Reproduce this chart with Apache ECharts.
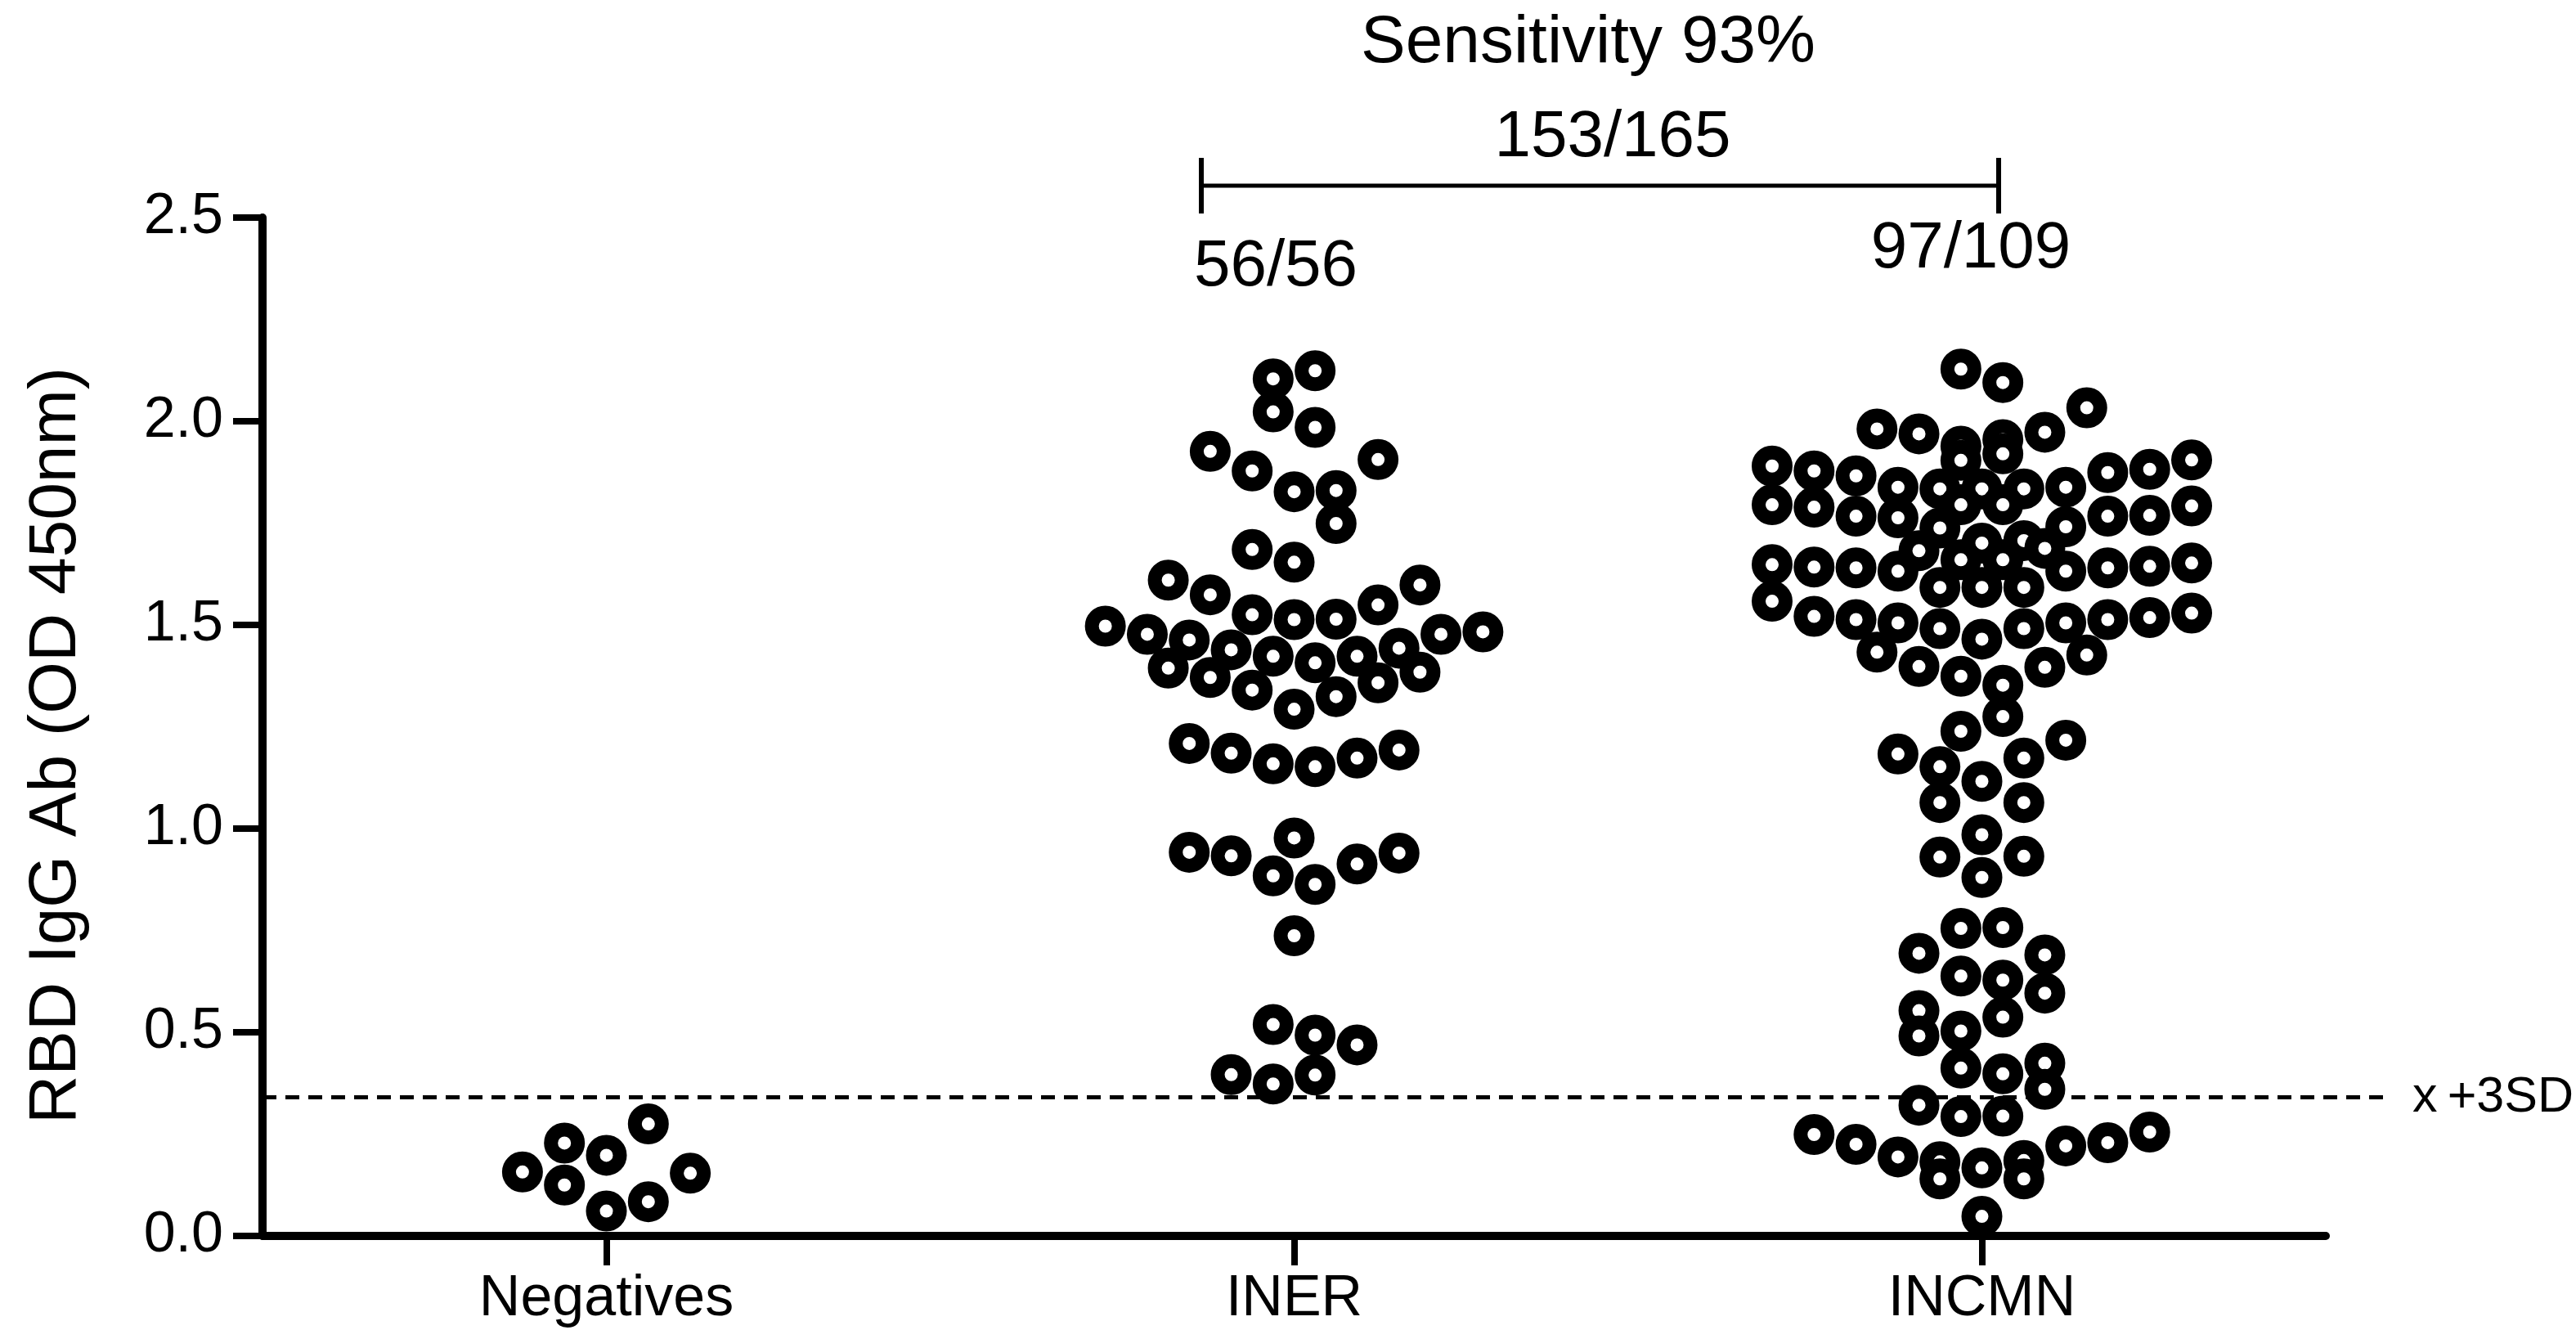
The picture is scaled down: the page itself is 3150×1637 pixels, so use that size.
<!DOCTYPE html>
<html>
<head>
<meta charset="utf-8">
<script src="https://cdn.jsdelivr.net/npm/echarts@6/dist/echarts.min.js"></script>
<style>
html,body{margin:0;padding:0;background:#ffffff;}
#c{width:3150px;height:1637px;}
</style>
</head>
<body>
<div id="c"></div>
<script>
// ---------------- data ----------------
const categories = ['Negatives', 'INER', 'INCMN'];

// Negatives
const negValues = [0.157, 0.228, 0.125, 0.198, 0.275, 0.061, 0.084, 0.154];
const negSlots  = [-2, -1, -1, 0, 1, 0, 1, 2];

// INER (56 samples)
const inerValues = [
  2.104, 2.124, 2.023, 1.985, 1.926, 1.906, 1.878, 1.827, 1.830, 1.749,
  1.685, 1.654, 1.610, 1.574, 1.598, 1.549, 1.525, 1.513, 1.514, 1.497,
  1.477, 1.477, 1.483, 1.463, 1.439, 1.423, 1.407, 1.423, 1.443, 1.394,
  1.371, 1.340, 1.293, 1.324, 1.358, 1.384, 1.209, 1.185, 1.159, 1.152,
  1.173, 1.193, 0.977, 0.942, 0.933, 0.884, 0.863, 0.913, 0.940, 0.737,
  0.519, 0.493, 0.469, 0.396, 0.373, 0.395
];
const inerSlots = [
  -0.5, 0.5, -0.5, 0.5, -2, 2, -1, 0, 1, 1,
  -1, 0, -3, -2, 3, 2, -1, 0, 1, -4.5,
  -3.5, 3.5, 4.5, -2.5, -1.5, -0.5, 0.5, 1.5, 2.5, -3,
  -2, -1, 0, 1, 2, 3, -2.5, -1.5, -0.5, 0.5,
  1.5, 2.5, 0, -2.5, -1.5, -0.5, 0.5, 1.5, 2.5, 0,
  -0.5, 0.5, 1.5, -1.5, -0.5, 0.5
];

// INCMN (109 samples)
const incmnValues = [
  2.128, 2.095, 2.033, 1.981, 1.969, 1.939, 1.904, 1.955, 1.920, 1.973,
  1.890, 1.878, 1.866, 1.838, 1.834, 1.834, 1.834, 1.838, 1.874, 1.882,
  1.905, 1.795, 1.789, 1.767, 1.763, 1.795, 1.795, 1.738, 1.741, 1.767,
  1.769, 1.792, 1.701, 1.707, 1.682, 1.688, 1.660, 1.660, 1.648, 1.642,
  1.640, 1.632, 1.632, 1.640, 1.644, 1.652, 1.592, 1.592, 1.592, 1.558,
  1.521, 1.513, 1.505, 1.491, 1.465, 1.491, 1.505, 1.513, 1.518, 1.529,
  1.433, 1.398, 1.374, 1.352, 1.396, 1.426, 1.275, 1.239, 1.217, 1.183,
  1.173, 1.152, 1.116, 1.064, 1.064, 0.985, 0.930, 0.932, 0.880, 0.755,
  0.757, 0.694, 0.690, 0.638, 0.628, 0.596, 0.553, 0.537, 0.503, 0.491,
  0.412, 0.398, 0.424, 0.360, 0.321, 0.293, 0.294, 0.249, 0.225, 0.194,
  0.182, 0.140, 0.167, 0.185, 0.140, 0.221, 0.229, 0.255, 0.048
];
const incmnSlots = [
  -0.5, 0.5, 2.5, -2.5, -1.5, -0.5, -0.5, 0.5, 0.5, 1.5,
  -5, -4, -3, -2, -1, 0, 1, 2, 3, 4,
  5, -5, -4, -3, -2, -0.5, 0.5, -1, 2, 3,
  4, 5, 0, 1, -1.5, 1.5, -0.5, 0.5, -5, -4,
  -3, -2, 2, 3, 4, 5, -1, 0, 1, -5,
  -4, -3, -2, -1, 0, 1, 2, 3, 4, 5,
  -2.5, -1.5, -0.5, 0.5, 1.5, 2.5, 0.5, -0.5, 2, -2,
  1, -1, 0, -1, 1, 0, -1, 1, 0, -0.5,
  0.5, -1.5, 1.5, -0.5, 0.5, 1.5, -1.5, 0.5, -0.5, -1.5,
  -0.5, 0.5, 1.5, 1.5, -1.5, -0.5, 0.5, -4, -3, -2,
  -1, -1, 0, 1, 1, 2, 3, 4, 0
];

const cutoff = 0.335;               // mean + 3SD of negatives
const cutoffLabel = 'x\u2009+3SD';
const yAxisTitle = 'RBD IgG Ab (OD 450nm)';
const headline = 'Sensitivity 93%';
const totalRatio = '153/165';
const inerRatio = '56/56';
const incmnRatio = '97/109';

// ---------------- chart ----------------
const FONT = '"Liberation Sans", Arial, Helvetica, sans-serif';
const SLOT = 0.061; // width of one swarm column, in category units

function swarm(groupIdx, values, slots) {
  return values.map((v, i) => [groupIdx + slots[i] * SLOT, v]);
}
const groups = [[negValues, negSlots], [inerValues, inerSlots], [incmnValues, incmnSlots]];

const ringStyle = {
  type: 'scatter',
  xAxisIndex: 1,
  yAxisIndex: 0,
  symbol: 'circle',
  symbolSize: 33,
  itemStyle: { color: '#ffffff', borderColor: '#000000', borderWidth: 17, opacity: 1 },
  emphasis: { disabled: true },
  silent: true,
  z: 5
};

const chart = echarts.init(document.getElementById('c'), null, { renderer: 'canvas' });

function txt(x, y, text, size) {
  return {
    type: 'text', x: x, y: y, silent: true,
    style: {
      text: text, fill: '#000000',
      font: size + 'px ' + FONT,
      align: 'center', verticalAlign: 'middle',
      textAlign: 'center', textVerticalAlign: 'middle'
    }
  };
}
function seg(x1, y1, x2, y2, w) {
  return { type: 'line', silent: true, shape: { x1, y1, x2, y2 }, style: { stroke: '#000000', lineWidth: w } };
}

const option = {
  animation: false,
  backgroundColor: '#ffffff',
  grid: [
    { left: 321, right: 306, top: 266, bottom: 126 },
    { left: 321, right: 232, top: 266, bottom: 126 }
  ],
  xAxis: [
    {
      type: 'category', gridIndex: 0, data: categories, boundaryGap: true,
      axisLine: { show: true, onZero: false, lineStyle: { color: '#000000', width: 10 } },
      axisTick: { show: true, alignWithLabel: true, length: 36, lineStyle: { color: '#000000', width: 8 } },
      axisLabel: { color: '#000000', fontSize: 70, fontFamily: FONT, margin: 43 },
      splitLine: { show: false }
    },
    { type: 'value', gridIndex: 0, min: -0.5, max: 2.5, show: false },
    { type: 'value', gridIndex: 1, min: 0, max: 1, show: false }
  ],
  yAxis: [
    {
      type: 'value', gridIndex: 0, min: 0, max: 2.5, interval: 0.5,
      name: yAxisTitle, nameLocation: 'middle', nameGap: 211,
      nameTextStyle: { color: '#000000', fontSize: 82, fontFamily: FONT, padding: [0, 46, 0, 0] },
      axisLine: { show: true, onZero: false, lineStyle: { color: '#000000', width: 10 } },
      axisTick: { show: true, length: 36, lineStyle: { color: '#000000', width: 8 } },
      axisLabel: { color: '#000000', fontSize: 70, fontFamily: FONT, margin: 48,
                   formatter: v => v.toFixed(1) },
      splitLine: { show: false }
    },
    { type: 'value', gridIndex: 1, min: 0, max: 2.5, show: false }
  ],
  series: [
    {
      type: 'scatter', xAxisIndex: 2, yAxisIndex: 1, data: [], silent: true, z: 2,
      markLine: {
        silent: true, symbol: ['none', 'none'], animation: false,
        lineStyle: { color: '#000000', width: 5, type: [17, 11] },
        label: {
          show: true, position: 'end', distance: 32, formatter: cutoffLabel,
          color: '#000000', fontSize: 61, fontFamily: FONT, padding: [0, 0, 18, 0]
        },
        emphasis: { disabled: true },
        data: [{ yAxis: cutoff }]
      }
    },
    ...groups.map((g, i) => Object.assign({}, ringStyle, { name: categories[i], data: swarm(i, g[0], g[1]) }))
  ],
  graphic: [
    txt(1942, 53, headline, 82),
    txt(1972, 169, totalRatio, 80),
    seg(1469, 227, 2444, 227, 5),
    seg(1469, 193, 1469, 261, 6),
    seg(2444, 193, 2444, 261, 6),
    txt(1560, 327, inerRatio, 80),
    txt(2410, 305, incmnRatio, 80)
  ]
};
chart.setOption(option);
</script>
</body>
</html>
